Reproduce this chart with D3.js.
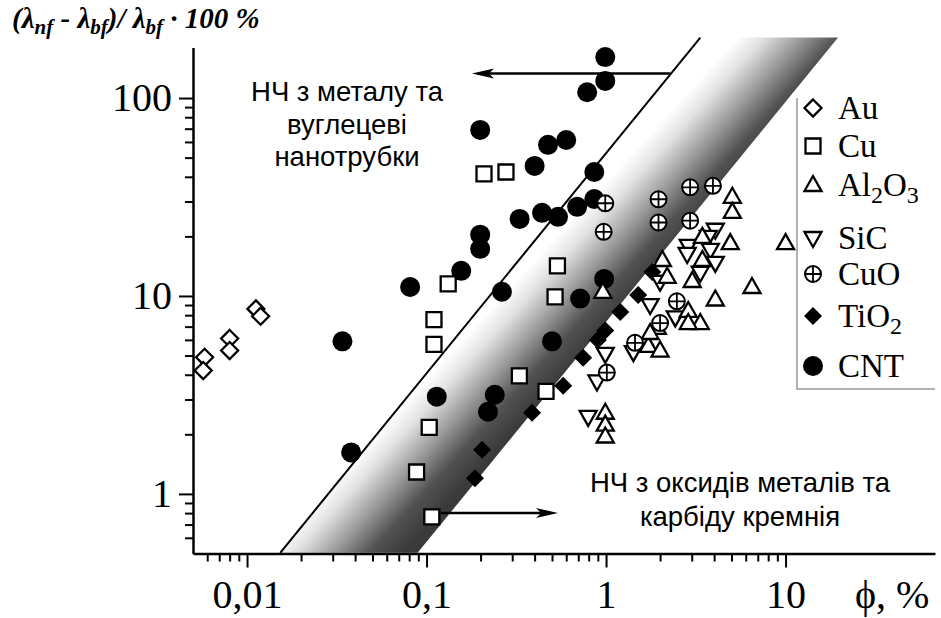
<!DOCTYPE html>
<meta charset="utf-8">
<head>
<script src="https://d3js.org/d3.v7.min.js"></script>
<style>
    body { margin: 0; background: #fff; }
</style>
</head>
<body>
<script>

    var width = 941;
    var height = 618;

    // [phi %, (lnf - lbf)/lbf * 100 %]
    var auData = [[0.0058, 4.9], [0.0057, 4.2], [0.008, 6.1], [0.008, 5.3], [0.0112, 8.6], [0.0119, 7.9]];

    var cuData = [[0.209, 41.4], [0.277, 42.3], [0.132, 11.5], [0.110, 7.6], [0.110, 5.7], [0.1035, 2.17],
        [0.088, 1.29], [0.107, 0.765], [0.536, 14.2], [0.52, 9.9], [0.329, 3.95], [0.463, 3.3]];

    var al2o3Data = [[5.05, 31.7], [5.05, 26.6], [4.92, 18.5], [3.44, 19.9], [3.44, 15.2], [2.06, 15.2],
        [2.19, 12.5], [10, 18.5], [6.5, 11.1], [4.06, 9.6], [3.02, 11.9], [2.87, 8.4], [3.35, 7.3],
        [2.87, 7.3], [1.93, 6.9], [1.72, 5.6], [2.0, 5.3], [1.76, 6.5], [0.96, 10.5], [0.99, 2.57],
        [0.99, 2.24], [0.99, 1.95]];

    var sicData = [[4.06, 21.6], [3.71, 19.9], [2.87, 17.9], [2.83, 16.3], [3.81, 17.1], [4.06, 14.7],
        [3.35, 13.1], [2.0, 11.8], [2.43, 7.8], [1.42, 5.2], [0.99, 5.1], [0.89, 3.7], [0.795, 2.45],
        [1.76, 9.0]];

    var cuoData = [[0.99, 29.4], [0.97, 21.1], [1.96, 30.8], [1.96, 23.5], [2.94, 35.4], [3.94, 36],
        [2.94, 24], [2.48, 9.4], [2.0, 7.3], [1.45, 5.8], [1.01, 4.1]];

    var tio2Data = [[1.81, 13.2], [1.51, 10.1], [1.2, 8.3], [0.99, 6.7], [0.9, 6.0], [0.745, 4.87],
        [0.577, 3.52], [0.387, 2.57], [0.204, 1.67], [0.186, 1.2]];

    var cntData = [[0.99, 161], [0.99, 122], [0.785, 107], [0.199, 69], [0.475, 58], [0.60, 61.4],
        [0.40, 45.4], [0.86, 42.3], [0.86, 30.9], [0.69, 28.2], [0.54, 25.1], [0.44, 26.3], [0.33, 24.5],
        [0.199, 20.4], [0.199, 17.3], [0.156, 13.4], [0.081, 11.1], [0.034, 5.9], [0.038, 1.62],
        [0.114, 3.1], [0.24, 3.17], [0.22, 2.6], [0.263, 10.5], [0.976, 12.2], [0.717, 9.7], [0.50, 5.9]];

    var xMajor = [0.01, 0.1, 1, 10];
    var xMajorLabels = ["0,01", "0,1", "1", "10"];
    var yMajor = [1, 10, 100];
    var yMajorLabels = ["1", "10", "100"];

    // boundary line and the shaded band next to it
    var boundaryLine = [[0.0153, 0.504], [3.35, 202]];
    var bandEdge = [[0.0892, 0.504], [19.6, 202]];
    var upperArrow = [[2.28, 133], [0.179, 133]];
    var lowerArrow = [[0.12, 0.80], [0.54, 0.80]];

    var serif = "'Liberation Serif', 'Times New Roman', serif";
    var sans = "'Liberation Sans', Arial, sans-serif";

    var svg = d3.select("body").append("svg")
        .attr("width", width)
        .attr("height", height)
        .style("background", "#fff");

    var x = d3.scaleLog().domain([0.005, 68]).range([193, 935]);
    var y = d3.scaleLog().domain([0.5, 180]).range([553.5, 47.5]);

    var line = d3.line()
        .x(function(d) { return x(d[0]); })
        .y(function(d) { return y(d[1]); });

    // gradient for the band
    var p0 = [x(boundaryLine[0][0]) - 12, y(boundaryLine[0][1])];
    var g = [0.74, 0.673];
    var gLen = 100;
    var grad = svg.append("defs").append("linearGradient")
        .attr("id", "bandGrad")
        .attr("gradientUnits", "userSpaceOnUse")
        .attr("x1", p0[0]).attr("y1", p0[1])
        .attr("x2", p0[0] + g[0] * gLen).attr("y2", p0[1] + g[1] * gLen);
    [[0, "#ffffff"], [0.2, "#e2e2e2"], [0.5, "#959595"], [0.75, "#525252"], [1, "#3a3a3a"]]
        .forEach(function(s) {
            grad.append("stop").attr("offset", s[0]).attr("stop-color", s[1]);
        });

    svg.append("path")
        .attr("d", line([boundaryLine[0], boundaryLine[1], bandEdge[1], bandEdge[0]]) + "Z")
        .style("fill", "url(#bandGrad)");

    svg.append("path")
        .attr("d", line(boundaryLine))
        .style("fill", "none")
        .style("stroke", "black")
        .style("stroke-width", 2);

    // arrows
    function arrow(pts) {
        var x1 = x(pts[0][0]), x2 = x(pts[1][0]), yy = y(pts[0][1]);
        var dir = x2 > x1 ? 1 : -1;
        svg.append("line")
            .attr("x1", x1).attr("y1", yy)
            .attr("x2", x2 - dir * 10).attr("y2", yy)
            .style("stroke", "black")
            .style("stroke-width", 2.5);
        svg.append("path")
            .attr("d", "M" + x2 + "," + yy + "L" + (x2 - dir * 22) + "," + (yy - 5) +
                "L" + (x2 - dir * 17) + "," + yy + "L" + (x2 - dir * 22) + "," + (yy + 5) + "Z")
            .style("fill", "black");
    }
    arrow(upperArrow);
    arrow(lowerArrow);

    // axes
    function isMajor(d) {
        var l = Math.log10(d);
        return Math.abs(l - Math.round(l)) < 1e-6;
    }
    var xMinor = x.ticks().filter(function(d) { return d > 0.0051 && d < 10 && !isMajor(d); });
    var yMinor = y.ticks().filter(function(d) { return d > 0.51 && d < 100 && !isMajor(d); });

    var xAxisMinor = svg.append("g")
        .attr("transform", "translate(0," + y(0.5) + ")")
        .call(d3.axisBottom(x).tickValues(xMinor).tickSize(8).tickSizeOuter(0).tickFormat(""));
    xAxisMinor.select(".domain").remove();

    var xAxis = svg.append("g")
        .attr("transform", "translate(0," + y(0.5) + ")")
        .call(d3.axisBottom(x).tickValues(xMajor).tickSize(14).tickSizeOuter(0).tickPadding(12)
            .tickFormat(function(d, i) { return xMajorLabels[i]; }));

    var yAxisMinor = svg.append("g")
        .attr("transform", "translate(" + x(0.005) + ",0)")
        .call(d3.axisLeft(y).tickValues(yMinor).tickSize(8).tickSizeOuter(0).tickFormat(""));
    yAxisMinor.select(".domain").remove();

    var yAxis = svg.append("g")
        .attr("transform", "translate(" + x(0.005) + ",0)")
        .call(d3.axisLeft(y).tickValues(yMajor).tickSize(14).tickSizeOuter(0).tickPadding(7)
            .tickFormat(function(d, i) { return yMajorLabels[i]; }));

    svg.selectAll(".tick line").style("stroke", "black").style("stroke-width", 2);
    svg.selectAll(".domain").style("stroke", "black").style("stroke-width", 2.5);
    svg.selectAll(".tick text")
        .style("font-family", serif)
        .style("font-size", "40px")
        .style("fill", "black");

    svg.append("text")
        .attr("x", 855)
        .attr("y", 608)
        .style("font-family", serif)
        .style("font-size", "40px")
        .text("ϕ, %");

    // y title
    var title = svg.append("text")
        .attr("x", 12)
        .attr("y", 34)
        .style("font-family", serif)
        .style("font-size", "29px")
        .style("font-weight", "bold")
        .style("font-style", "italic");
    [["(λ", 0], ["nf", 1], [" - λ", 0], ["bf", 1], [")/ λ", 0], ["bf", 1], [" · 100 %", 0]]
        .forEach(function(p) {
            title.append("tspan")
                .attr("dy", p[1] ? 6 : (title.selectAll("tspan").size() ? -6 : 0))
                .style("font-size", p[1] ? "21px" : "29px")
                .text(p[0]);
        });

    // annotations
    function multiline(lines, cx, y0, step) {
        lines.forEach(function(t, i) {
            svg.append("text")
                .attr("x", cx)
                .attr("y", y0 + i * step)
                .attr("text-anchor", "middle")
                .style("font-family", sans)
                .style("font-size", "27.5px")
                .text(t);
        });
    }
    multiline(["НЧ з металу та", "вуглецеві", "нанотрубки"], 347, 101, 32.5);
    multiline(["НЧ з оксидів металів та", "карбіду кремнія"], 740, 492, 34);

    // markers
    var shapes = {
        diamond: "M0,-8.5L8.5,0L0,8.5L-8.5,0Z",
        square: "M-7.5,-7.5H7.5V7.5H-7.5Z",
        up: "M0,-9L8.5,6L-8.5,6Z",
        down: "M0,9L8.5,-6L-8.5,-6Z",
        filledDiamond: "M0,-9L9,0L0,9L-9,0Z"
    };

    function drawSymbol(sel, kind) {
        if (kind === "circle") {
            sel.append("circle").attr("r", 10).style("fill", "black");
        } else if (kind === "cross") {
            sel.append("circle").attr("r", 8)
                .style("fill", "white").style("stroke", "black").style("stroke-width", 2);
            sel.append("path").attr("d", "M-8,0H8M0,-8V8")
                .style("stroke", "black").style("stroke-width", 1.8);
        } else if (kind === "filledDiamond") {
            sel.append("path").attr("d", shapes[kind]).style("fill", "black");
        } else {
            sel.append("path").attr("d", shapes[kind])
                .style("fill", "white").style("stroke", "black")
                .style("stroke-width", 2.3).style("stroke-linejoin", "miter");
        }
    }

    function drawSeries(data, kind) {
        var pts = svg.append("g").selectAll("g")
            .data(data)
            .enter()
            .append("g")
            .attr("transform", function(d) { return "translate(" + x(d[0]) + "," + y(d[1]) + ")"; });
        drawSymbol(pts, kind);
    }

    drawSeries(cntData, "circle");
    drawSeries(tio2Data, "filledDiamond");
    drawSeries(auData, "diamond");
    drawSeries(cuData, "square");
    drawSeries(sicData, "down");
    drawSeries(al2o3Data, "up");
    drawSeries(cuoData, "cross");

    // legend
    var legendItems = [
        { kind: "diamond", label: [["Au", 0]] },
        { kind: "square", label: [["Cu", 0]] },
        { kind: "up", label: [["Al", 0], ["2", 1], ["O", 0], ["3", 1]] },
        { kind: "down", label: [["SiC", 0]] },
        { kind: "cross", label: [["CuO", 0]] },
        { kind: "filledDiamond", label: [["TiO", 0], ["2", 1]] },
        { kind: "circle", label: [["CNT", 0]] }
    ];
    var legendRows = [108, 146, 185, 238, 274, 316, 366];

    svg.append("path")
        .attr("d", "M797,98V389H935")
        .style("fill", "none")
        .style("stroke", "#999")
        .style("stroke-width", 1.5);

    legendItems.forEach(function(item, i) {
        var row = svg.append("g").attr("transform", "translate(0," + legendRows[i] + ")");
        var sym = row.append("g").attr("transform", "translate(813,0)");
        drawSymbol(sym, item.kind);
        var t = row.append("text")
            .attr("x", 838)
            .attr("y", 11)
            .style("font-family", serif)
            .style("font-size", "33px");
        var down = false;
        item.label.forEach(function(p) {
            var dy = 0;
            if (p[1] && !down) { dy = 7; down = true; }
            else if (!p[1] && down) { dy = -7; down = false; }
            t.append("tspan")
                .attr("dy", dy)
                .style("font-size", p[1] ? "24px" : "33px")
                .text(p[0]);
        });
    });

</script>
</body>
</html>
